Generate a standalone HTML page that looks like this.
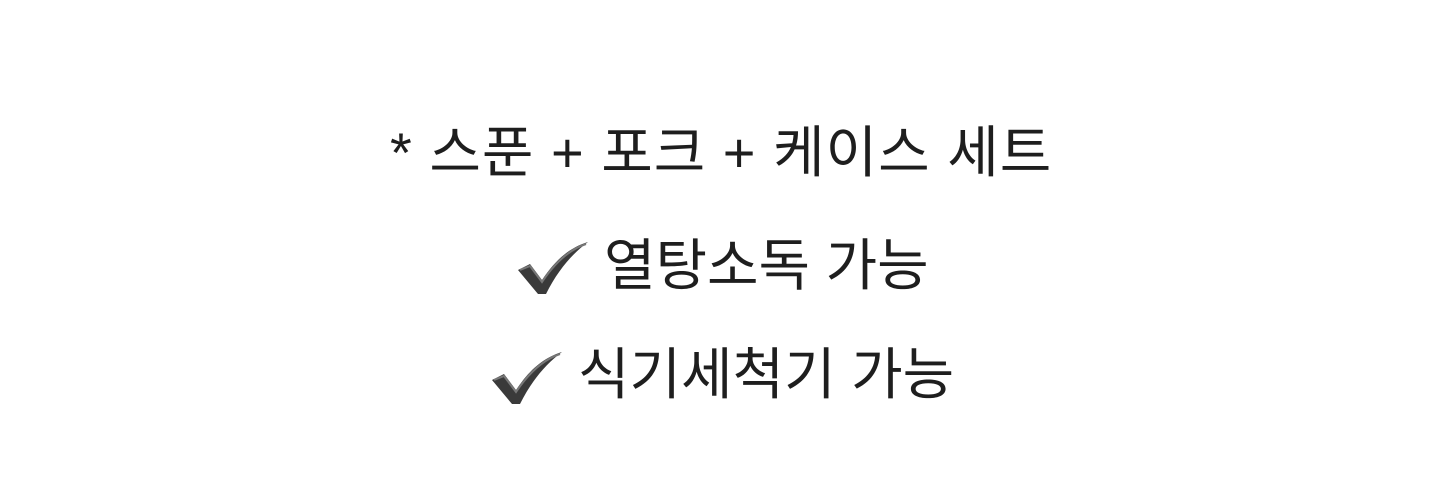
<!DOCTYPE html>
<html><head><meta charset="utf-8"><style>
html,body{margin:0;padding:0;background:#fff;}
body{width:1445px;height:490px;position:relative;overflow:hidden;font-family:"Liberation Sans","Noto Sans CJK KR","NanumGothic",sans-serif;color:#1e1e1e;}
.t{position:absolute;white-space:nowrap;font-size:56px;line-height:1;}
svg{position:absolute;}
</style></head><body>
<div class="t" style="left:390px;top:125px;letter-spacing:1px;">* 스푼 + 포크 + 케이스 세트</div>
<svg style="left:516px;top:240px" width="74" height="56" viewBox="0 0 74 56">
<path d="M2 30 L14 24 L26 40 C38 22 52 8 72 2 C56 14 42 30 30 54 L22 54 Z" fill="#3a3a3a"/>
<path d="M4 30 L14 26 L26 42 C38 24 52 10 70 4" fill="none" stroke="#777" stroke-width="2"/>
</svg>
<div class="t" style="left:604px;top:238px;">열탕소독 가능</div>
<svg style="left:490px;top:350px" width="74" height="56" viewBox="0 0 74 56">
<path d="M2 30 L14 24 L26 40 C38 22 52 8 72 2 C56 14 42 30 30 54 L22 54 Z" fill="#3a3a3a"/>
<path d="M4 30 L14 26 L26 42 C38 24 52 10 70 4" fill="none" stroke="#777" stroke-width="2"/>
</svg>
<div class="t" style="left:578px;top:347px;">식기세척기 가능</div>
</body></html>
